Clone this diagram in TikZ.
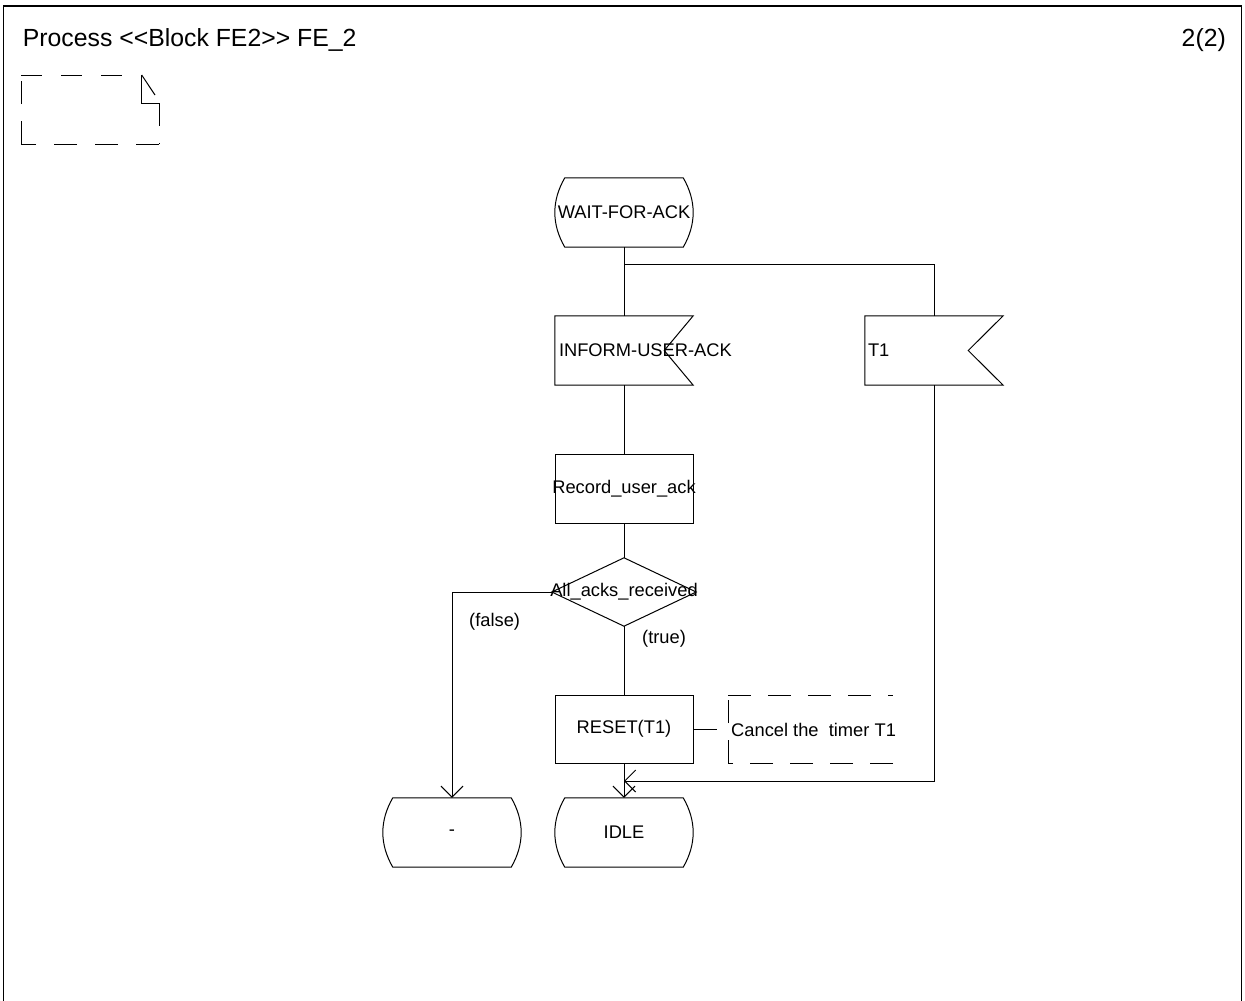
\documentclass[tikz,border=0pt]{standalone}
\usepackage{fontspec}
\setmainfont{Liberation Sans}
\usetikzlibrary{arrows.meta,calc}
\newcommand\bodyfont{\fontsize{18.3}{22}\selectfont}
\newcommand\headfont{\fontsize{24.8}{30}\selectfont}
\begin{document}
\begin{tikzpicture}[x=1pt,y=-1pt,
  flow/.style={line width=1pt},
  arr/.style={flow,-{Straight Barb[length=11pt,width=22pt,line width=1pt]}},
  shapebox/.style={rectangle,inner sep=0pt,minimum width=138pt,minimum height=69pt},
  txt/.style={inner sep=0pt,font=\bodyfont},
  cmt/.style={flow,dash pattern=on 23pt off 17pt},
  frame/.style={line width=1.3pt}]

\useasboundingbox (0,0) rectangle (1245,1001);

% page frame and heading
\draw[frame] (3.7,1001) -- (3.7,6) -- (1241.5,6) -- (1241.5,1001);
\node[anchor=base west,inner sep=0pt,font=\headfont] (title) at (22.7,46.5)
  {Process <\kern0pt<Block FE2>\kern0pt> FE\_2};
\node[anchor=base east,inner sep=0pt,font=\headfont] (page) at (1226,46.5) {2(2)};

% text symbol in the corner
\draw[cmt,dash pattern=on 21pt off 19pt] (21,75) -- (141.7,75);
\draw[cmt] (21,144) -- (21,75);
\draw[cmt,dash pattern=on 23pt off 18pt] (159,144) -- (21,144);
\draw[cmt] (159,103) -- (159,144);
\draw[flow] (141.7,75) -- (141.7,103) -- (159,103);
\draw[flow] (141.7,75) -- (155,95);

% symbols
\node[shapebox] (wait) at (624,212.5) {};
\node[txt] (waitt) at (wait) {WAIT-FOR-ACK};

\node[shapebox] (in1) at (624,350.5) {};
\node[txt,anchor=west] (in1t) at ([xshift=4pt]in1.west) {INFORM-USER-ACK};

\node[shapebox] (t1) at (934,350.5) {};
\node[txt,anchor=west] (t1t) at ([xshift=3pt]t1.west) {T1};

\node[shapebox,draw,flow] (rec) at (624,488.5) {};
\node[txt] (rect) at (rec) {Record\_user\_ack};

\node[shapebox,minimum width=144pt,minimum height=68pt] (dec) at (624,592) {};
\node[txt] (dect) at (dec) {All\_acks\_received};

\node[shapebox,draw,flow,minimum height=68pt] (reset) at (624,729) {};
\node[txt] (resett) at (reset) {RESET(T1)};

\node[shapebox] (dsh) at (452,832.5) {};
\node[txt] (dsht) at (dsh) {-};

\node[shapebox] (idle) at (624,832.5) {};
\node[txt] (idlet) at (idle) {IDLE};

% state outlines
\foreach \n in {wait,dsh,idle}{
  \draw[flow] ([xshift=10pt]\n.north west) -- ([xshift=-10pt]\n.north east)
    .. controls ($(\n.north east)+(3.3,23)$) and ($(\n.south east)+(3.3,-23)$) .. ([xshift=-10pt]\n.south east)
    -- ([xshift=10pt]\n.south west)
    .. controls ($(\n.south west)+(-3.3,-23)$) and ($(\n.north west)+(-3.3,23)$) .. cycle;
}

% input outlines
\draw[flow] (in1.north west) -- (in1.north east) -- ([xshift=-29pt]in1.east)
  -- (in1.south east) -- (in1.south west) -- cycle;
\draw[flow] (t1.north west) -- (t1.north east) -- ([xshift=-35pt]t1.east)
  -- (t1.south east) -- (t1.south west) -- cycle;

% decision outline
\draw[flow] (dec.north) -- (dec.east) -- (dec.south) -- (dec.west) -- cycle;

% comment
\coordinate (cend) at (717,729);
\draw[flow] (reset.east) -- (cend);
\draw[cmt] (728,695) -- (893,695);
\draw[cmt] (728,763) -- (728,695);
\draw[cmt] (893,763) -- (728,763);
\node[txt,anchor=west] (cmtt) at (731,730) {Cancel the~ timer T1};

% flow lines
\coordinate (br) at (624,264);
\coordinate (mrg) at (624,781);
\draw[flow] (wait.south) -- (in1.north);
\draw[flow] (br) -| (t1.north);
\draw[flow] (in1.south) -- (rec.north);
\draw[flow] (rec.south) -- (dec.north);
\draw[flow] (dec.south) -- (reset.north);
\draw[arr] (dec.west) -| (dsh.north);
\draw[arr] (reset.south) -- (idle.north);
\draw[arr] (t1.south) |- (mrg);

% branch labels
\node[txt,anchor=west] (fl) at (469,622) {(false)};
\node[txt,anchor=west] (tr) at (642,639) {(true)};
\end{tikzpicture}
\end{document}
